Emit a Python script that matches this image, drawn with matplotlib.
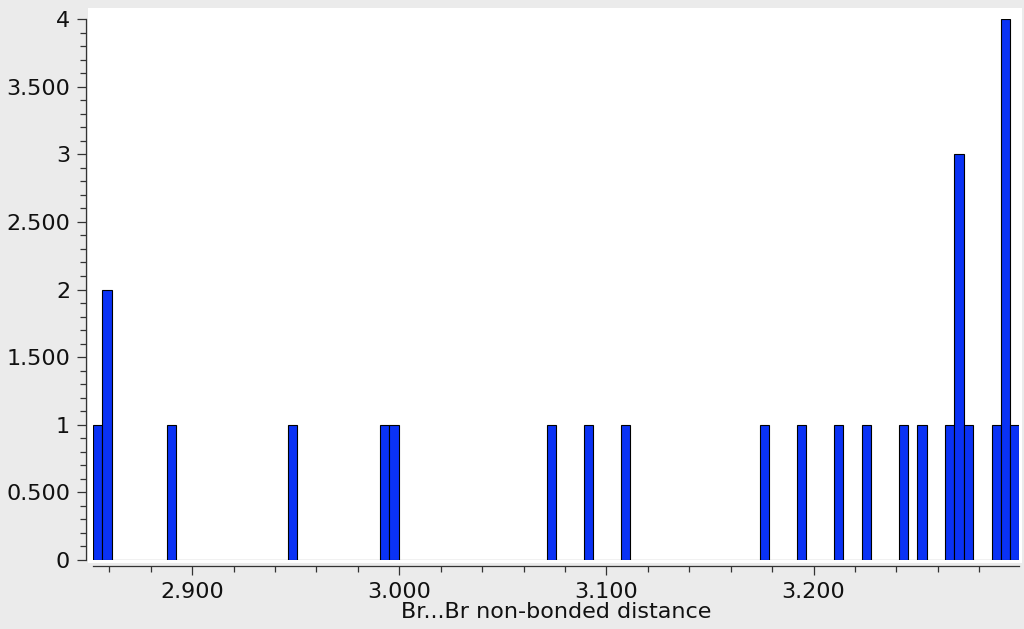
import matplotlib
matplotlib.use("Agg")
import matplotlib.pyplot as plt
import matplotlib.patches as mpatches
from matplotlib.ticker import MultipleLocator

# Br...Br distances (one entry per contact)
distances = [2.854, 2.859, 2.859, 2.890, 2.948, 2.993, 2.997, 3.073, 3.091,
             3.109, 3.176, 3.194, 3.212, 3.226, 3.243, 3.252, 3.266,
             3.270, 3.270, 3.270, 3.275, 3.288,
             3.293, 3.293, 3.293, 3.293, 3.297]
n_bins = 100
x_range = (2.8521, 3.2993)

y_ticks = [0, 0.5, 1, 1.5, 2, 2.5, 3, 3.5, 4]
y_labels = ["0", "0.500", "1", "1.500", "2", "2.500", "3", "3.500", "4"]
x_ticks = [2.9, 3.0, 3.1, 3.2]
x_labels = ["2.900", "3.000", "3.100", "3.200"]

W, H = 1024, 629
fig = plt.figure(figsize=(W / 100, H / 100), dpi=100)
fig.patch.set_facecolor("#ebebeb")

# white plotting panel, a bit larger than the data area
fig.patches.append(mpatches.Rectangle((88 / W, 66 / H), 934 / W, 555 / H,
                                      transform=fig.transFigure,
                                      facecolor="white", edgecolor="none",
                                      zorder=-5))

ax = fig.add_axes([93 / W, 69 / H, 926.3 / W, 541 / H])
ax.set_facecolor("none")

ax.hist(distances, bins=n_bins, range=x_range, color="#0a32f5",
        edgecolor="black", linewidth=0.8)

ax.set_xlim(*x_range)
ax.set_ylim(0, 4)

for s in ["top", "right"]:
    ax.spines[s].set_visible(False)
ax.spines["left"].set_position(("outward", 5))
ax.spines["bottom"].set_position(("outward", 4.3))
for s in ["left", "bottom"]:
    ax.spines[s].set_color("#333333")
    ax.spines[s].set_linewidth(0.9)

ax.set_yticks(y_ticks)
ax.set_yticklabels(y_labels)
ax.set_xticks(x_ticks)
ax.set_xticklabels(x_labels)
ax.yaxis.set_minor_locator(MultipleLocator(0.1))
ax.xaxis.set_minor_locator(MultipleLocator(0.02))

ax.tick_params(which="major", length=6.5, width=0.9, color="#333333",
               labelsize=16, pad=5, labelcolor="#111111")
ax.tick_params(which="minor", length=4, width=0.9, color="#333333")

ax.set_xlabel("Br...Br non-bonded distance", fontsize=16, labelpad=0,
              color="#111111")

fig.savefig("out.png", dpi=100, facecolor=fig.get_facecolor())
